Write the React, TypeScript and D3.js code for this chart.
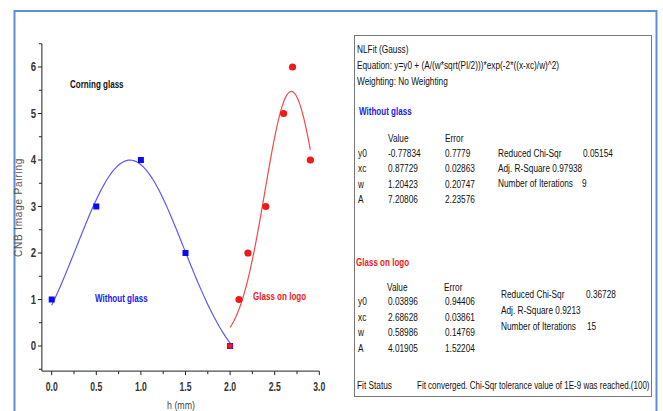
import React from "react";
import * as d3 from "d3";

const blueX = [0, 0.5, 1, 1.5, 2];
const blueY = [1, 3, 4, 2, 0];
const redX = [2, 2.1, 2.2, 2.4, 2.6, 2.7, 2.9];
const redY = [0, 1, 2, 3, 5, 6, 4];
// Gauss fit parameters [y0, xc, w, A]
const blueFit = [-0.77834, 0.87729, 1.20423, 7.20806];
const redFit = [0.03896, 2.68628, 0.58986, 4.01905];
const blueRange = [0, 2];
const redRange = [2, 2.9];
const xTicks = [0, 0.5, 1, 1.5, 2, 2.5, 3];
const yTicks = [0, 1, 2, 3, 4, 5, 6];

const paramNames = ["y0", "xc", "w", "A"];
const blueValues = ["-0.77834", "0.87729", "1.20423", "7.20806"];
const blueErrors = ["0.7779", "0.02863", "0.20747", "2.23576"];
const redValues = ["0.03896", "2.68628", "0.58986", "4.01905"];
const redErrors = ["0.94406", "0.03861", "0.14769", "1.52204"];

const gauss = (p: number[], x: number) =>
  p[0] + (p[3] / (p[2] * Math.sqrt(Math.PI / 2))) * Math.exp(-2 * Math.pow((x - p[1]) / p[2], 2));

const FONT = "'Liberation Sans', Arial, sans-serif";

function T(props: any) {
  const { x, y, s = 0.72, children, ...rest } = props;
  return (
    <text transform={`translate(${x},${y}) scale(${s},1)`} fontSize={11.5} fill="#111" {...rest}>
      {children}
    </text>
  );
}

export default function App() {
  const x = d3.scaleLinear().domain([0, 3]).range([51.7, 319.3]);
  const y = d3.scaleLinear().domain([0, 6]).range([346, 67]);
  const xAxisY = y(-0.54);
  const yAxisX = x(-0.11);
  const yTop = y(6.5);
  const line = d3
    .line<[number, number]>()
    .x((d) => x(d[0]))
    .y((d) => y(d[1]));
  const curvePts = (p: number[], r: number[]) =>
    d3.range(0, 101).map((i) => {
      const xv = r[0] + ((r[1] - r[0]) * i) / 100;
      return [xv, gauss(p, xv)] as [number, number];
    });
  const xMinor = d3.range(0, 13).map((i) => i * 0.25);
  const yMinor = d3.range(-1, 14).map((i) => i * 0.5).filter((v) => v <= 6.5);

  const paramBlock = (vals: string[], errs: string[], base: number, step: number) =>
    paramNames.map((n, i) => (
      <g key={n}>
        <T x={358} y={base + i * step}>{n}</T>
        <T x={388} y={base + i * step}>{vals[i]}</T>
        <T x={445} y={base + i * step}>{errs[i]}</T>
      </g>
    ));

  return (
    <div style={{ position: "absolute", left: 0, top: 0 }}>
      <svg width={663} height={411} style={{ display: "block", fontFamily: FONT }}>
        <rect x={0} y={0} width={663} height={411} fill="#fff" />
        <rect x={14.5} y={11} width={642} height={420} fill="none" stroke="#5b8fd4" strokeWidth={2} />

        {/* axes */}
        <line x1={yAxisX} x2={yAxisX} y1={yTop} y2={xAxisY} stroke="#222" strokeWidth={1} />
        <line x1={yAxisX} x2={x(3)} y1={xAxisY} y2={xAxisY} stroke="#222" strokeWidth={1} />
        {xMinor.map((v) => (
          <line key={"xm" + v} x1={x(v)} x2={x(v)} y1={xAxisY} y2={xAxisY + (v % 0.5 === 0 ? 4 : 3)} stroke="#222" />
        ))}
        {yMinor.map((v) => (
          <line key={"ym" + v} x1={yAxisX} x2={yAxisX - (v % 1 === 0 ? 4 : 3)} y1={y(v)} y2={y(v)} stroke="#222" />
        ))}
        {xTicks.map((v) => (
          <T key={"xt" + v} x={x(v)} y={391} s={0.72} textAnchor="middle" fontSize={12} fill="#333" fontWeight="bold">
            {v.toFixed(1)}
          </T>
        ))}
        {yTicks.map((v) => (
          <T key={"yt" + v} x={36} y={y(v) + 4} s={0.8} textAnchor="end" fontSize={12} fill="#333" fontWeight="bold">
            {v}
          </T>
        ))}
        <text
          transform={`translate(22,${(yTop + xAxisY) / 2}) rotate(-90)`}
          textAnchor="middle"
          fontSize={10}
          fill="#555"
          letterSpacing={0.8}
        >
          CNB Image Pairing
        </text>
        <T x={181} y={409} s={0.8} textAnchor="middle" fontSize={11} fill="#444">
          h (mm)
        </T>

        {/* curves */}
        <path d={line(curvePts(blueFit, blueRange)) || ""} fill="none" stroke="#5a5af5" strokeWidth={1.2} />
        <path d={line(curvePts(redFit, redRange)) || ""} fill="none" stroke="#f24a4a" strokeWidth={1.2} />

        {blueX.map((v, i) => (
          <rect key={"b" + i} x={x(v) - 3} y={y(blueY[i]) - 3} width={6} height={6} fill="#0a0aff" />
        ))}
        {redX.map((v, i) =>
          i === 0 ? (
            <rect key={"r" + i} x={x(v) - 2.5} y={y(redY[i]) - 2.5} width={5} height={5} fill="#f01818" />
          ) : (
            <circle key={"r" + i} cx={x(v)} cy={y(redY[i])} r={3.6} fill="#f01818" />
          )
        )}

        <T x={70} y={88} s={0.7} fontWeight="bold" fill="#111">
          Corning glass
        </T>
        <T x={95} y={302} s={0.7} fontWeight="bold" fill="#2020ee">
          Without glass
        </T>
        <T x={253} y={300} s={0.7} fontWeight="bold" fill="#ee2020">
          Glass on logo
        </T>

        {/* fit table */}
        <rect x={354.5} y={35.5} width={297} height={361} fill="#fff" stroke="#777" strokeWidth={1} />
        <T x={357} y={53}>NLFit (Gauss)</T>
        <T x={357} y={69}>Equation: y=y0 + (A/(w*sqrt(PI/2)))*exp(-2*((x-xc)/w)^2)</T>
        <T x={357} y={85}>Weighting: No Weighting</T>
        <T x={359} y={115} s={0.7} fontWeight="bold" fill="#1a1aee">
          Without glass
        </T>
        <T x={388} y={142}>Value</T>
        <T x={445} y={142}>Error</T>
        {paramBlock(blueValues, blueErrors, 157, 15.3)}
        <T x={498} y={157}>Reduced Chi-Sqr</T>
        <T x={583} y={157}>0.05154</T>
        <T x={498} y={172}>Adj. R-Square  0.97938</T>
        <T x={498} y={187}>Number of Iterations</T>
        <T x={582} y={187}>9</T>

        <T x={356} y={266} s={0.7} fontWeight="bold" fill="#ee1a1a">
          Glass on logo
        </T>
        <T x={387} y={291}>Value</T>
        <T x={444} y={291}>Error</T>
        {paramBlock(redValues, redErrors, 305, 15.7)}
        <T x={501} y={298}>Reduced Chi-Sqr</T>
        <T x={586} y={298}>0.36728</T>
        <T x={501} y={314}>Adj. R-Square  0.9213</T>
        <T x={501} y={330}>Number of Iterations</T>
        <T x={587} y={330}>15</T>

        <T x={357} y={389}>Fit Status</T>
        <T x={417} y={389} s={0.695}>Fit converged. Chi-Sqr tolerance value of 1E-9 was reached.(100)</T>
      </svg>
    </div>
  );
}
